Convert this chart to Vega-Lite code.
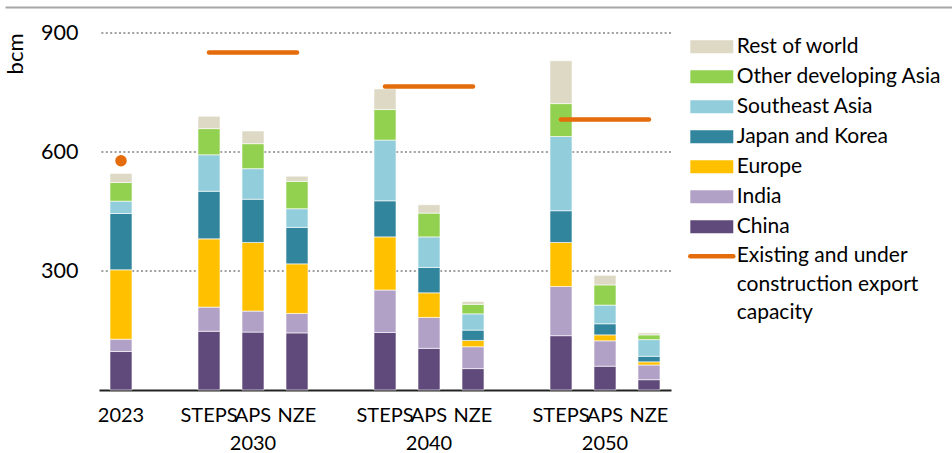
{
  "$schema": "https://vega.github.io/schema/vega-lite/v6.json",
  "width": 572,
  "height": 357,
  "autosize": {"type": "none"},
  "padding": {"left": 99, "top": 33, "right": 281, "bottom": 63},
  "config": {
    "font": "Lato",
    "view": {"stroke": null},
    "axis": {"labelFont": "Lato", "titleFont": "Lato", "labelColor": "#000", "titleColor": "#000"},
    "legend": {"labelFont": "Lato", "labelColor": "#000"}
  },
  "layer": [
    {
      "layer": [
        {
          "data": {"values": [{"g": 300}, {"g": 600}, {"g": 900}]},
          "mark": {"type": "rule", "color": "#a0a0a0", "strokeWidth": 2, "strokeDash": [2, 2.4]},
          "encoding": {
            "y": {"field": "g", "type": "quantitative", "title": "bcm"}
          }
        },
        {
          "data": {
            "values": [
              {"slot": "2023", "China": 97, "India": 31, "Europe": 175, "Japan and Korea": 142, "Southeast Asia": 31, "Other developing Asia": 47, "Rest of world": 23},
              {"slot": "STEPS 2030", "China": 148, "India": 61, "Europe": 172, "Japan and Korea": 120, "Southeast Asia": 92, "Other developing Asia": 66, "Rest of world": 31},
              {"slot": "APS 2030", "China": 146, "India": 53, "Europe": 173, "Japan and Korea": 109, "Southeast Asia": 77, "Other developing Asia": 63, "Rest of world": 32},
              {"slot": "NZE 2030", "China": 144, "India": 49, "Europe": 125, "Japan and Korea": 92, "Southeast Asia": 47, "Other developing Asia": 69, "Rest of world": 13},
              {"slot": "STEPS 2040", "China": 145, "India": 107, "Europe": 134, "Japan and Korea": 91, "Southeast Asia": 153, "Other developing Asia": 77, "Rest of world": 52},
              {"slot": "APS 2040", "China": 105, "India": 78, "Europe": 62, "Japan and Korea": 64, "Southeast Asia": 77, "Other developing Asia": 60, "Rest of world": 21},
              {"slot": "NZE 2040", "China": 54, "India": 55, "Europe": 16, "Japan and Korea": 26, "Southeast Asia": 41, "Other developing Asia": 24, "Rest of world": 7},
              {"slot": "STEPS 2050", "China": 137, "India": 124, "Europe": 111, "Japan and Korea": 80, "Southeast Asia": 187, "Other developing Asia": 83, "Rest of world": 108},
              {"slot": "APS 2050", "China": 60, "India": 64, "Europe": 15, "Japan and Korea": 28, "Southeast Asia": 47, "Other developing Asia": 51, "Rest of world": 24},
              {"slot": "NZE 2050", "China": 26, "India": 37, "Europe": 8, "Japan and Korea": 14, "Southeast Asia": 42, "Other developing Asia": 12, "Rest of world": 5}
            ]
          },
          "transform": [
            {"fold": ["China", "India", "Europe", "Japan and Korea", "Southeast Asia", "Other developing Asia", "Rest of world"], "as": ["region", "value"]},
            {"calculate": "indexof(['China','India','Europe','Japan and Korea','Southeast Asia','Other developing Asia','Rest of world'], datum.region)", "as": "rank"}
          ],
          "mark": {"type": "bar", "stroke": "#ffffff", "strokeWidth": 0.6},
          "encoding": {
            "x": {
              "field": "slot", "type": "nominal", "title": null,
              "scale": {"domain": ["2023", "g1", "STEPS 2030", "APS 2030", "NZE 2030", "g2", "STEPS 2040", "APS 2040", "NZE 2040", "g3", "STEPS 2050", "APS 2050", "NZE 2050"], "paddingInner": 0.5, "paddingOuter": 0.25},
              "axis": {
                "orient": "bottom", "domain": true, "domainColor": "#222222", "domainWidth": 2, "ticks": false,
                "labelAngle": 0, "labelFontSize": 20, "labelPadding": 15, "labelBaseline": "top", "labelLineHeight": 28,
                "labelOverlap": false, "labelBound": false, "labelFlush": false,
                "labelExpr": "datum.value == '2023' ? '2023' : indexof(datum.value, 'g') == 0 ? '' : indexof(datum.value, 'APS') == 0 ? ['APS', slice(datum.value, 4)] : split(datum.value, ' ')[0]"
              }
            },
            "y": {
              "field": "value", "type": "quantitative", "stack": "zero", "title": "bcm",
              "scale": {"domain": [0, 900], "nice": false},
              "axis": {"values": [300, 600, 900], "domain": false, "ticks": false, "grid": false, "labelFontSize": 21.5, "labelPadding": 21, "titleFontSize": 22, "titleFontWeight": "normal", "titleAnchor": "end", "titlePadding": 13}
            },
            "color": {
              "field": "region", "type": "nominal",
              "scale": {
                "domain": ["Rest of world", "Other developing Asia", "Southeast Asia", "Japan and Korea", "Europe", "India", "China"],
                "range": ["#DDD9C4", "#92D050", "#92CDDC", "#31859C", "#FFC000", "#B2A1C7", "#604A7B"]
              },
              "legend": {
                "orient": "none", "legendX": 602.3, "legendY": 3.2, "title": null, "padding": 0,
                "symbolType": "M-3,-0.9H3V0.9H-3Z", "symbolSize": 205, "symbolStrokeWidth": 0,
                "labelFontSize": 21, "labelOffset": 14.4, "rowPadding": 8, "labelLimit": 400
              }
            },
            "order": {"field": "rank", "type": "quantitative"}
          }
        },
        {
          "data": {"values": [
            {"from": "STEPS 2030", "to": "NZE 2030", "cap": 851},
            {"from": "STEPS 2040", "to": "NZE 2040", "cap": 765},
            {"from": "STEPS 2050", "to": "NZE 2050", "cap": 682}
          ]},
          "mark": {"type": "rule", "strokeWidth": 4.5, "strokeCap": "round"},
          "encoding": {
            "x": {"field": "from", "type": "nominal", "title": null},
            "x2": {"field": "to"},
            "y": {"field": "cap", "type": "quantitative", "title": "bcm"},
            "stroke": {
              "datum": "Existing and under construction export capacity",
              "scale": {"range": ["#E46C0A"]},
              "legend": {
                "orient": "none", "legendX": 602.3, "legendY": 212.8, "title": null, "padding": 0,
                "symbolType": "M-3,0H3", "symbolSize": 205, "symbolStrokeWidth": 4.5,
                "labelFontSize": 21, "labelOffset": 14.4, "labelBaseline": "top", "labelLimit": 400,
                "labelExpr": "['Existing and under', 'construction export', 'capacity']",
                "encode": {"labels": {"update": {"dy": {"value": -11}, "lineHeight": {"value": 28.5}}}, "symbols": {"update": {"strokeCap": {"value": "round"}}}}
              }
            }
          }
        },
        {
          "data": {"values": [{"slot": "2023", "cap": 578}]},
          "mark": {"type": "circle", "size": 133, "color": "#E46C0A", "opacity": 1},
          "encoding": {
            "x": {"field": "slot", "type": "nominal", "title": null},
            "y": {"field": "cap", "type": "quantitative", "title": "bcm"}
          }
        }
      ]
    },
    {
      "data": {"values": [{"t": 0.5}]},
      "mark": {"type": "point", "opacity": 0},
      "encoding": {
        "x": {
          "field": "t", "type": "quantitative",
          "scale": {"domain": [0, 1], "range": [-94, 853]},
          "axis": {"orient": "top", "offset": 26, "domain": true, "domainColor": "#a6a6a6", "domainWidth": 2, "ticks": false, "labels": false, "grid": false, "title": null}
        }
      }
    }
  ],
  "resolve": {"scale": {"x": "independent"}}
}
